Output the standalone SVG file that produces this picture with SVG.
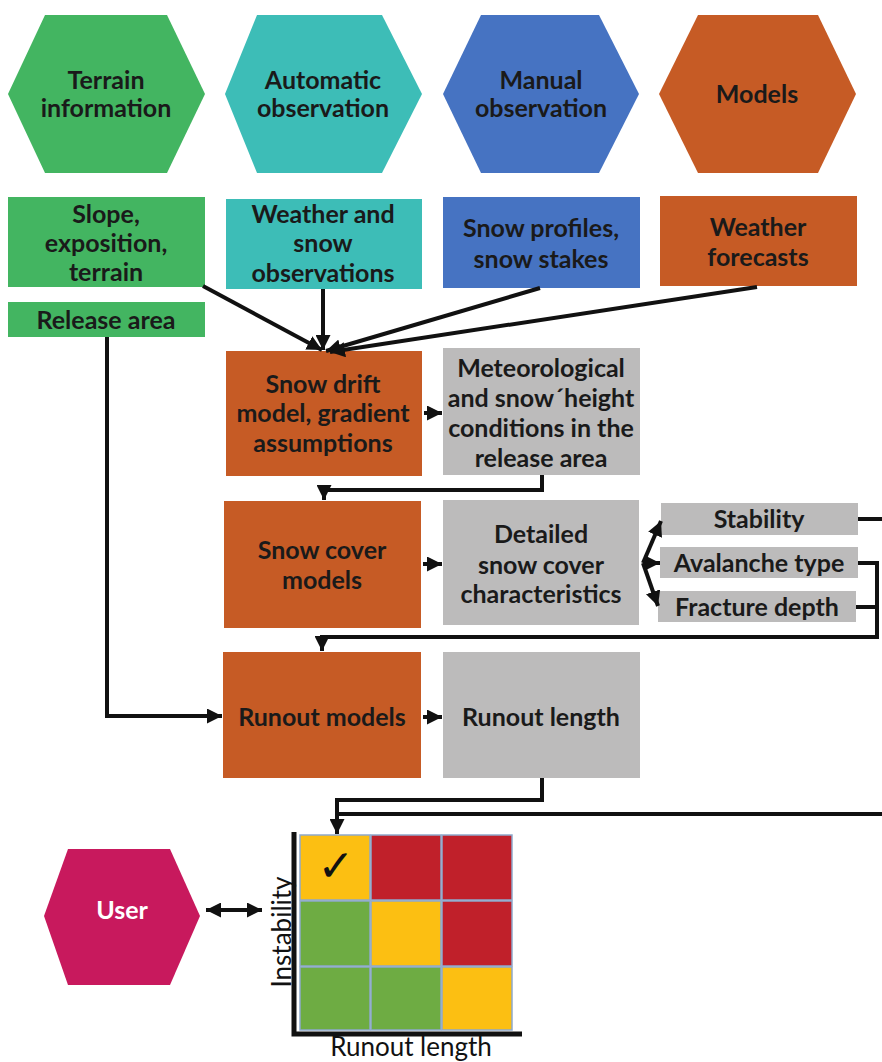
<svg xmlns="http://www.w3.org/2000/svg" width="882" height="1062" viewBox="0 0 882 1062">
<defs>
<marker id="ah" viewBox="0 0 10 10" refX="10" refY="5" markerWidth="15" markerHeight="15" markerUnits="userSpaceOnUse" orient="auto-start-reverse"><path d="M0,0 L10,5 L0,10 z" fill="#111"/></marker>
<style>
.t{font-family:Lato,"Liberation Sans",sans-serif;font-weight:700;font-size:25px;fill:#1a1a1a;text-anchor:middle}
.ln{fill:none;stroke:#111;stroke-width:4}
.g{fill:#43b561}.c{fill:#3dbdb7}.b{fill:#4673c2}.o{fill:#c65b25}.gr{fill:#bcbbbb}
.cell{stroke:#8ea9cc;stroke-width:1.5}
.ax{font-family:Lato,"Liberation Sans",sans-serif;font-size:26px;fill:#111;text-anchor:middle}
</style>
</defs>
<rect width="882" height="1062" fill="#fff"/>

<g id="terrain-info"><polygon class="g" points="8,94 45,15 167,15 205,94 167,173 45,173"/><text class="t" x="106" y="89">Terrain</text><text class="t" x="106" y="117">information</text></g>
<g id="auto-obs"><polygon class="c" points="225,94 257,15 382,15 422,94 382,173 257,173"/><text class="t" x="323" y="89">Automatic</text><text class="t" x="323" y="117">observation</text></g>
<g id="manual-obs"><polygon class="b" points="443,94 481,15 599,15 639,94 599,173 481,173"/><text class="t" x="541" y="89">Manual</text><text class="t" x="541" y="117">observation</text></g>
<g id="models"><polygon class="o" points="659,94 698,15 818,15 856,94 818,173 698,173"/><text class="t" x="757" y="103">Models</text></g>

<g id="slope"><rect class="g" x="8" y="197" width="197" height="90"/><text class="t" x="106" y="223">Slope,</text><text class="t" x="106" y="252">exposition,</text><text class="t" x="106" y="281">terrain</text></g>
<g id="weather-snow"><rect class="c" x="226" y="199" width="196" height="90"/><text class="t" x="323" y="223">Weather and</text><text class="t" x="323" y="252">snow</text><text class="t" x="323" y="282">observations</text></g>
<g id="snow-profiles"><rect class="b" x="443" y="197" width="197" height="91"/><text class="t" x="541" y="237">Snow  profiles,</text><text class="t" x="541" y="268">snow stakes</text></g>
<g id="weather-forecasts"><rect class="o" x="660" y="196" width="197" height="90"/><text class="t" x="758" y="236">Weather</text><text class="t" x="758" y="266">forecasts</text></g>
<g id="release-area"><rect class="g" x="8" y="302" width="197" height="35"/><text class="t" x="106" y="329">Release area</text></g>

<g id="snow-drift"><rect class="o" x="226" y="351" width="196" height="125"/><text class="t" x="323" y="393">Snow drift</text><text class="t" x="323" y="422">model, gradient</text><text class="t" x="323" y="452">assumptions</text></g>
<g id="meteo"><rect class="gr" x="443" y="348" width="197" height="127"/><text class="t" x="541" y="377">Meteorological</text><text class="t" x="541" y="407">and snow´height</text><text class="t" x="541" y="437">conditions in the</text><text class="t" x="541" y="467">release area</text></g>

<g id="snow-cover"><rect class="o" x="224" y="501" width="197" height="127"/><text class="t" x="322" y="559">Snow cover</text><text class="t" x="322" y="589">models</text></g>
<g id="detailed"><rect class="gr" x="443" y="500" width="196" height="125"/><text class="t" x="541" y="543">Detailed</text><text class="t" x="541" y="574">snow cover</text><text class="t" x="541" y="603">characteristics</text></g>
<g id="stability"><rect class="gr" x="661" y="503" width="197" height="32"/><text class="t" x="759" y="528">Stability</text></g>
<g id="avalanche-type"><rect class="gr" x="660" y="547" width="198" height="31"/><text class="t" x="759" y="572">Avalanche type</text></g>
<g id="fracture-depth"><rect class="gr" x="658" y="591" width="198" height="31"/><text class="t" x="757" y="616">Fracture depth</text></g>

<g id="runout-models"><rect class="o" x="223" y="652" width="198" height="126"/><text class="t" x="322" y="726">Runout models</text></g>
<g id="runout-length"><rect class="gr" x="443" y="652" width="197" height="126"/><text class="t" x="541" y="726">Runout length</text></g>

<g id="user"><polygon fill="#c8195d" points="44,916 68,849 170,849 200,916 170,985 68,985"/><text class="t" x="122" y="919" style="fill:#fff">User</text></g>

<g id="matrix">
<rect class="cell" x="300" y="835" width="70" height="65" fill="#fcbf12"/>
<rect class="cell" x="371" y="835" width="70" height="65" fill="#c0202a"/>
<rect class="cell" x="442" y="835" width="70" height="65" fill="#c0202a"/>
<rect class="cell" x="300" y="901" width="70" height="65" fill="#6eac43"/>
<rect class="cell" x="371" y="901" width="70" height="65" fill="#fcbf12"/>
<rect class="cell" x="442" y="901" width="70" height="65" fill="#c0202a"/>
<rect class="cell" x="300" y="967" width="70" height="63" fill="#6eac43"/>
<rect class="cell" x="371" y="967" width="70" height="63" fill="#6eac43"/>
<rect class="cell" x="442" y="967" width="70" height="63" fill="#fcbf12"/>
<text x="336" y="881" font-family="DejaVu Sans,sans-serif" font-size="44" font-weight="700" text-anchor="middle" fill="#111">✓</text>
<path d="M294,832 L294,1034 L522,1034" fill="none" stroke="#111" stroke-width="5"/>
<text class="ax" x="0" y="0" transform="translate(291,932) rotate(-90)">Instability</text>
<text class="ax" x="411" y="1056">Runout length</text>
</g>

<g id="connectors">
<line class="ln" x1="203" y1="286" x2="322" y2="350" marker-end="url(#ah)"/>
<line class="ln" x1="323" y1="289" x2="323" y2="350" marker-end="url(#ah)"/>
<line class="ln" x1="540" y1="288" x2="326" y2="351" marker-end="url(#ah)"/>
<line class="ln" x1="757" y1="287" x2="330" y2="352" marker-end="url(#ah)"/>
<line class="ln" x1="424" y1="413" x2="442" y2="413" marker-end="url(#ah)"/>
<path class="ln" d="M542,475 L542,490 L324,490 L324,500" marker-end="url(#ah)"/>
<line class="ln" x1="423" y1="564" x2="442" y2="564" marker-end="url(#ah)"/>
<line class="ln" x1="643" y1="563" x2="661" y2="521" marker-end="url(#ah)"/>
<line class="ln" x1="643" y1="563" x2="660" y2="563" marker-end="url(#ah)"/>
<line class="ln" x1="643" y1="563" x2="658" y2="606" marker-end="url(#ah)"/>
<line class="ln" x1="858" y1="519" x2="882" y2="519"/>
<path class="ln" d="M858,563 L877,563 L877,637 L322,637 L322,651" marker-end="url(#ah)"/>
<line class="ln" x1="856" y1="607" x2="877" y2="607"/>
<path class="ln" d="M107,337 L107,716 L222,716" marker-end="url(#ah)"/>
<line class="ln" x1="423" y1="717" x2="442" y2="717" marker-end="url(#ah)"/>
<path class="ln" d="M542,778 L542,800 L337,800 L337,834" marker-end="url(#ah)"/>
<line class="ln" x1="337" y1="814" x2="882" y2="814"/>
<line class="ln" x1="206" y1="910" x2="262" y2="910" marker-start="url(#ah)" marker-end="url(#ah)"/>
</g>
</svg>
